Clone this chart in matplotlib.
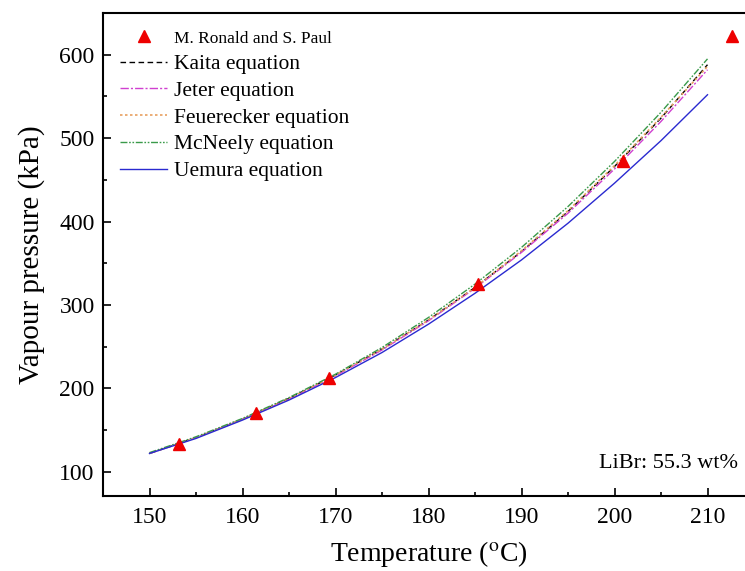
import matplotlib
matplotlib.use("Agg")
import matplotlib.pyplot as plt
from matplotlib.ticker import MultipleLocator

plt.rcParams['font.family'] = ['Liberation Serif', 'DejaVu Serif']
plt.rcParams['mathtext.fontset'] = 'stix'

# Data
exp_T = [153.2, 161.5, 169.3, 185.3, 200.9, 212.6]
exp_P = [133, 171, 213, 325, 473, 622]

T = [150, 155, 160, 165, 170, 175, 180, 185, 190, 195, 200, 205, 210]
kaita = [122, 141, 163, 188, 216, 247, 282, 321, 364, 412, 466, 524, 588]
jeter = [122, 141, 163, 187, 215, 246, 281, 320, 363, 410, 463, 520, 582]
feuerecker = [122, 141, 163, 188, 216, 247, 282, 321, 365, 413, 467, 525, 586]
mcneely = [123, 142, 164, 189, 217, 249, 285, 325, 369, 418, 472, 531, 595]
uemura = [122, 140, 162, 186, 213, 243, 277, 314, 354, 398, 446, 497, 552]

xticks = [150, 160, 170, 180, 190, 200, 210]
yticks = [100, 200, 300, 400, 500, 600]

fig = plt.figure(figsize=(7.45, 5.71), dpi=100)
ax = fig.add_axes([103/745, 75/571, 651/745, 483/571])

ax.plot(exp_T, exp_P, linestyle='none', marker='^', color='#ee0000',
        markersize=8, label='M. Ronald and S. Paul', clip_on=False, zorder=5)
ax.plot(T, kaita, color='black', linestyle=(0, (4, 2.5)), lw=1.0, label='Kaita equation')
ax.plot(T, jeter, color='#d040d0', linestyle=(0, (6, 1.5, 1.5, 1.5)), lw=1.0, label='Jeter equation')
ax.plot(T, feuerecker, color='#e8a060', linestyle=(0, (1.5, 1.5)), lw=1.2, label='Feuerecker equation')
ax.plot(T, mcneely, color='#3a9a4a', linestyle=(0, (5, 1.2, 1.2, 1.2, 1.2, 1.2)), lw=1.0, label='McNeely equation')
ax.plot(T, uemura, color='#2a2ad0', linestyle='-', lw=1.0, label='Uemura equation')

ax.set_xlim(145, 215)
ax.set_ylim(71, 650)
ax.set_xticks(xticks)
ax.set_yticks(yticks)
ax.xaxis.set_minor_locator(MultipleLocator(5))
ax.yaxis.set_minor_locator(MultipleLocator(50))
ax.tick_params(which='both', direction='in', labelsize=17, width=1.2)
ax.tick_params(which='major', length=6)
ax.tick_params(which='minor', length=3)
ax.tick_params(axis='x', pad=8)
ax.tick_params(axis='y', pad=6)
for s in ax.spines.values():
    s.set_linewidth(1.5)

ax.set_xlabel('Temperature ($^\\mathrm{o}$C)', fontsize=20, labelpad=8)
ax.set_ylabel('Vapour pressure (kPa)', fontsize=21, labelpad=10)

ax.text(0.975, 0.068, 'LiBr: 55.3 wt%', transform=ax.transAxes, fontsize=16,
        ha='right', va='center')

leg = ax.legend(loc='upper left', bbox_to_anchor=(0.006, 0.995), frameon=False,
                fontsize=15.5, handlelength=2.2, handletextpad=0.3,
                labelspacing=0.31, borderaxespad=0.2)
leg.get_texts()[0].set_fontsize(12.5)

fig.savefig('out.png', dpi=100)
